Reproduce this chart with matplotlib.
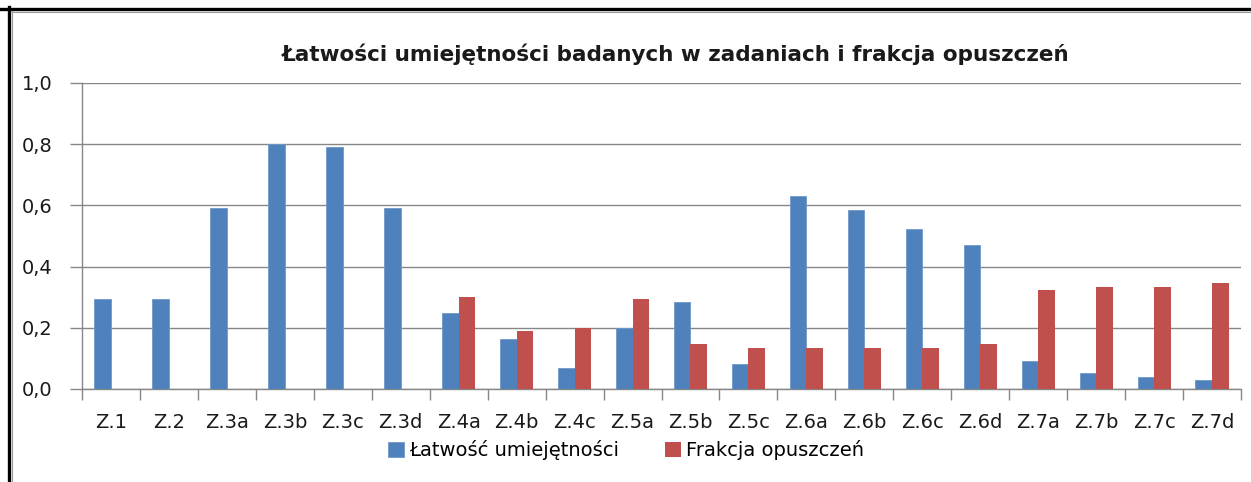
import numpy as np
import matplotlib
matplotlib.use("Agg")
import matplotlib.pyplot as plt
from matplotlib.lines import Line2D

# dane
zadania = ['Z.1', 'Z.2', 'Z.3a', 'Z.3b', 'Z.3c', 'Z.3d', 'Z.4a', 'Z.4b', 'Z.4c', 'Z.5a',
           'Z.5b', 'Z.5c', 'Z.6a', 'Z.6b', 'Z.6c', 'Z.6d', 'Z.7a', 'Z.7b', 'Z.7c', 'Z.7d']
latwosc = [0.295, 0.295, 0.59, 0.80, 0.79, 0.59, 0.25, 0.165, 0.07, 0.20,
           0.283, 0.083, 0.63, 0.586, 0.524, 0.469, 0.09, 0.051, 0.039, 0.028]
opuszczenia = [0, 0, 0, 0, 0, 0, 0.30, 0.189, 0.198, 0.293,
               0.146, 0.133, 0.133, 0.133, 0.133, 0.146, 0.325, 0.333, 0.333, 0.345]
y_ticks = [0.0, 0.2, 0.4, 0.6, 0.8, 1.0]
y_labels = ['0,0', '0,2', '0,4', '0,6', '0,8', '1,0']

BLUE = '#4F81BD'
RED = '#C0504D'
GRAY = '#868686'

plt.rcParams['font.family'] = ['DejaVu Sans']

fig = plt.figure(figsize=(12.51, 4.82), dpi=100)
W, H = 1251, 482
ax = fig.add_axes([82 / W, 1 - 389 / H, (1241 - 82) / W, (389 - 83) / H])

x = np.arange(len(zadania))
bw = 0.286
ax.bar(x - bw / 2, latwosc, bw, color=BLUE, edgecolor='#6f98c9', linewidth=0.6,
       label='Łatwość umiejętności', zorder=3)
ax.bar(x + bw / 2, opuszczenia, bw, color=RED, linewidth=0,
       label='Frakcja opuszczeń', zorder=3)

ax.set_xlim(-0.5, len(zadania) - 0.5)
ax.set_ylim(0, 1.0)
ax.set_yticks(y_ticks)
ax.set_yticklabels(y_labels, fontsize=14, color='#1a1a1a')
ax.tick_params(axis='y', length=9, color=GRAY, width=1, pad=12)

ax.set_xticks(np.arange(-0.5, len(zadania)), labels=[''] * (len(zadania) + 1))
ax.tick_params(axis='x', which='major', length=8, color=GRAY, width=1)
ax.set_xticks(x, labels=zadania, minor=True)
ax.tick_params(axis='x', which='minor', length=0, labelsize=14, labelcolor='#1a1a1a', pad=17)

ax.grid(axis='y', color=GRAY, linewidth=1, zorder=0)
for s in ['top', 'right']:
    ax.spines[s].set_visible(False)
for s in ['left', 'bottom']:
    ax.spines[s].set_color(GRAY)
    ax.spines[s].set_linewidth(1)

fig.text(676 / W, 1 - 54 / H, 'Łatwości umiejętności badanych w zadaniach i frakcja opuszczeń',
         ha='center', va='center', fontsize=15.5, fontweight='bold', color='#1a1a1a')

fig.legend(loc='center', bbox_to_anchor=(626 / W, 1 - 450 / H), ncol=2, frameon=False,
           fontsize=14, handlelength=0.8, handleheight=0.8, handletextpad=0.25,
           columnspacing=2.4)

# ramka
fig.add_artist(Line2D([0, 1], [1 - 8.5 / H, 1 - 8.5 / H], transform=fig.transFigure,
                      color='black', linewidth=2.4))
fig.add_artist(Line2D([8.5 / W, 8.5 / W], [0, 1 - 7 / H], transform=fig.transFigure,
                      color='black', linewidth=2.4))
fig.add_artist(Line2D([12 / W, 12 / W], [0, 1 - 11 / H], transform=fig.transFigure,
                      color='#9a9a9a', linewidth=0.8))
fig.add_artist(Line2D([12 / W, 1], [1 - 11.5 / H, 1 - 11.5 / H], transform=fig.transFigure,
                      color='#9a9a9a', linewidth=0.8))

fig.savefig('out.png', dpi=100)
